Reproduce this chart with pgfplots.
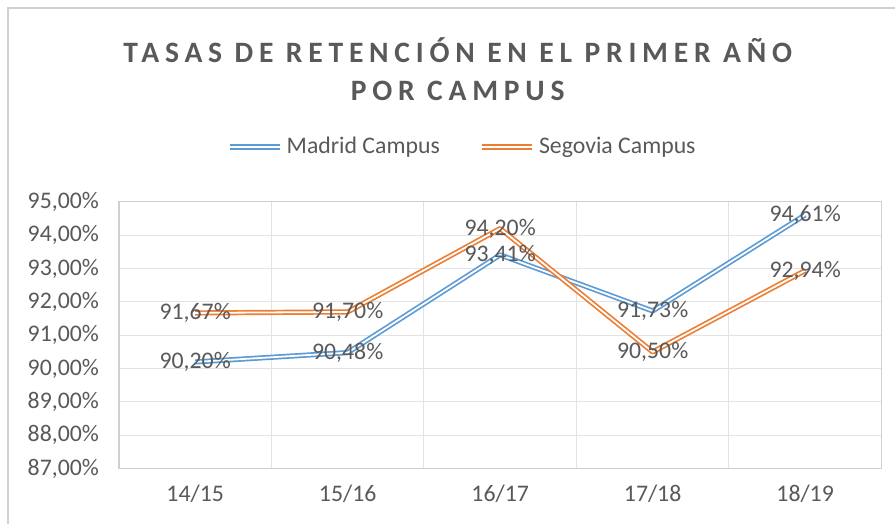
\documentclass[border=0pt]{standalone}
\usepackage{pgfplots}
\pgfplotsset{compat=1.18}
\usepackage{fontspec}
\setmainfont{Carlito}
\newfontfamily\titlefont[LetterSpace=19.5]{Carlito}
\definecolor{txt}{HTML}{595959}
\definecolor{gridc}{HTML}{E3E3E3}
\definecolor{axc}{HTML}{D0D0D0}
\definecolor{madrid}{HTML}{5B9BD5}
\definecolor{segovia}{HTML}{ED7D31}
\begin{document}
\begin{tikzpicture}
\fill[white] (0,0) rectangle (448pt,262pt);
\draw[axc, line width=0.6pt] (4pt,0) -- (4pt,258pt) -- (448pt,258pt);
\node[txt, font=\titlefont\bfseries\fontsize{14.8}{17}\selectfont, align=center] at (229pt,237pt) {TASAS DE RETENCIÓN EN EL PRIMER AÑO};
\node[txt, font=\titlefont\bfseries\fontsize{14.8}{17}\selectfont, align=center] at (229pt,216.5pt) {POR CAMPUS};
\begin{axis}[
  at={(59.5pt,27.5pt)}, anchor=south west,
  scale only axis, width=381.5pt, height=133.5pt,
  xmin=-0.5, xmax=4.5, ymin=87, ymax=95,
  xtick={0,1,2,3,4},
  xticklabels={14/15,15/16,16/17,17/18,18/19},
  minor xtick={-0.5,0.5,1.5,2.5,3.5,4.5},
  ytick={87,88,...,95},
  ymajorgrids, xminorgrids,
  grid style={gridc, line width=0.5pt},
  minor grid style={gridc, line width=0.5pt},
  axis line style={axc, line width=0.6pt},
  major tick length=0pt, minor tick length=0pt,
  tick style={draw=none},
  /pgf/number format/assume math mode=true,
  ticklabel style={txt, font=\fontsize{11.9}{14}\selectfont},
  yticklabel={\pgfmathprintnumber[fixed,fixed zerofill,precision=2,use comma]{\tick}\%},
  yticklabel style={xshift=-6.5pt},
  xticklabel style={yshift=-4.5pt},
  legend columns=2,
  legend style={at={(axis description cs:0.452,1.206)}, anchor=center, draw=none, fill=none,
    font=\fontsize{11.9}{14}\selectfont, text=txt,
    /tikz/every even column/.append style={column sep=18pt}},
  legend image code/.code={\draw[#1] (0pt,0pt) -- (25pt,0pt);},
  nodes near coords={\pgfmathprintnumber[fixed,fixed zerofill,precision=2,use comma]{\pgfplotspointmeta}\%},
  nodes near coords align=center,
  every node near coord/.append style={anchor=center, text=txt, font=\fontsize{11.9}{14}\selectfont},
  point meta=y,
]
\addplot[madrid, line width=0.85pt, double=white, double distance=0.9pt, line join=round] coordinates {
 (0,90.20) (1,90.48) (2,93.41) (3,91.73) (4,94.61)};
\addlegendentry{Madrid Campus}
\addplot[segovia, line width=0.85pt, double=white, double distance=0.9pt, line join=round] coordinates {
 (0,91.67) (1,91.70) (2,94.20) (3,90.50) (4,92.94)};
\addlegendentry{Segovia Campus}
\end{axis}
\end{tikzpicture}
\end{document}
